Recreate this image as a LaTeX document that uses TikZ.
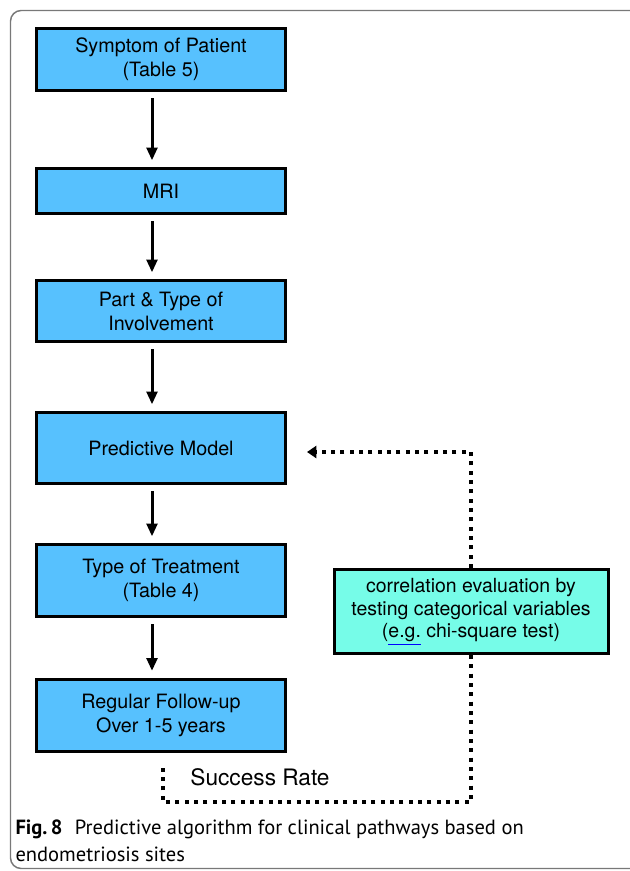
\documentclass[tikz,border=0pt]{standalone}
\usepackage{fontspec}
\setmainfont{TeX Gyre Heros}
\newfontfamily\capfont{PT Sans}
\usetikzlibrary{arrows.meta}

\definecolor{boxblue}{RGB}{87,193,254}
\definecolor{boxaqua}{RGB}{118,252,232}

\tikzset{every picture/.style={line width=0.75pt}}
\tikzset{
  stepbox/.style={draw=black, line width=2.25pt, fill=boxblue, minimum width=186.75pt,
    align=center, inner sep=0pt, font=\fontsize{14.8}{18}\selectfont},
  testbox/.style={draw=black, line width=2.25pt, fill=boxaqua, minimum width=205.5pt,
    minimum height=63pt, align=center, inner sep=0pt, font=\fontsize{14.6}{17}\selectfont},
  arr/.style={line width=2.25pt, -{Triangle[length=9.5pt,width=8pt]}, shorten <=4.5pt, shorten >=5pt},
  fbline/.style={line width=3pt, dash pattern=on 3pt off 4pt},
  fbarr/.style={fbline, -{Triangle[length=7pt,width=9pt]}}
}

\begin{document}
\begin{tikzpicture}[x=0.75pt,y=0.75pt,yscale=-1,xscale=1]
\useasboundingbox (0,0) rectangle (630,871);

%Frame
\draw [color={rgb, 255:red, 120; green, 120; blue, 120 }, line width=1.1pt, rounded corners=8pt] (10.5,10.5) rectangle (650,868.5) ;

% Flow boxes
\node [stepbox, minimum height=46.5pt] (sym) at (161,59.5) {Symptom of Patient\\(Table 5)};
\node [stepbox, minimum height=33.75pt] (mri) at (161,191) {MRI};
\node [stepbox, minimum height=45.75pt] (part) at (161,311) {Part \& Type of\\Involvement};
\node [stepbox, minimum height=53.25pt] (pred) at (161,448) {Predictive Model};
\node [stepbox, minimum height=54pt] (treat) at (161,580.5) {Type of Treatment\\(Table 4)};
\node [stepbox, minimum height=54pt] (follow) at (161,715) {Regular Follow-up\\Over 1-5 years};

% Test box
\node [testbox] (corr) at (471,611.5) {correlation evaluation by\\testing categorical variables\\({\color{blue}\underline{\color{black}e.g.}} chi-square test)};

% Text Node
\node [font=\fontsize{17}{20}\selectfont] (rate) at (260,777) {Success Rate};

%Straight Lines
\draw [arr] ([xshift=-6.75pt]sym.south) -- ([xshift=-6.75pt]mri.north) ;
\draw [arr] ([xshift=-6.75pt]mri.south) -- ([xshift=-6.75pt]part.north) ;
\draw [arr] ([xshift=-6.75pt]part.south) -- ([xshift=-6.75pt]pred.north) ;
\draw [arr] ([xshift=-6.75pt]pred.south) -- ([xshift=-6.75pt]treat.north) ;
\draw [arr] ([xshift=-6.75pt]treat.south) -- ([xshift=-6.75pt]follow.north) ;

%Dotted feedback
\coordinate (fbtip) at (307,452);
\coordinate (fbcorner) at (163,802);
\coordinate (fbend) at (163,767);
\draw [fbarr] (corr.north) |- (fbtip) ;
\draw [fbline] (corr.south) |- (fbcorner) -- (fbend) ;

% Caption
\node [anchor=north west, inner sep=0pt, align=left, font=\capfont\fontsize{15.4}{20.5}\selectfont] (cap) at (15,819)
  {\textbf{Fig.\,8}\hspace{0.6em}Predictive algorithm for clinical pathways based on\\endometriosis sites};
\end{tikzpicture}
\end{document}
